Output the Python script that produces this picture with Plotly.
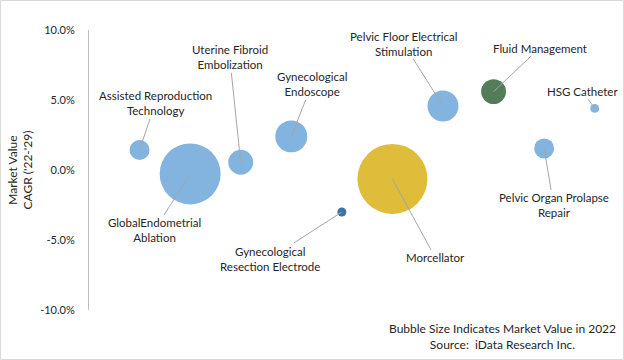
import plotly.graph_objects as go

segments = ["Assisted Reproduction<br>Technology", "GlobalEndometrial<br>Ablation",
            "Uterine Fibroid<br>Embolization", "Gynecological<br>Endoscope",
            "Gynecological<br>Resection Electrode", "Morcellator",
            "Pelvic Floor Electrical<br>Stimulation", "Fluid Management",
            "Pelvic Organ Prolapse<br>Repair", "HSG Catheter"]
x_pos = [1, 2, 3, 4, 5, 6, 7, 8, 9, 10]
cagr = [1.43, -0.28, 0.55, 2.4, -3.0, -0.64, 4.57, 5.6, 1.54, 4.4]
market_value = [20, 186, 31, 51, 4, 245, 48, 31, 20, 4]
colors = ["#83B4E0", "#83B4E0", "#83B4E0", "#83B4E0", "#3D71A8", "#DFBC3A",
          "#83B4E0", "#537D57", "#83B4E0", "#83B4E0"]
label_dx = [15.5, -36, -11, 20.5, -72, 43, -39.5, 46, 9.5, -12]
label_dy = [-46.5, 56.5, -105, -52, 46.5, 79, -62.5, -43.5, 57, -17]
y_ticks = [-10, -5, 0, 5, 10]
y_tick_labels = ["-10.0%", "-5.0%", "0.0%", "5.0%", "10.0%"]

FONT = "Lato"
TXT = "#262626"
max_d = 70
sizeref = 2 * max(market_value) / (max_d ** 2)

fig = go.Figure()
fig.add_trace(go.Scatter(
    x=x_pos, y=cagr, mode="markers",
    marker=dict(size=market_value, sizemode="area", sizeref=sizeref,
                color=colors, opacity=1, line=dict(width=0)),
    hoverinfo="skip", showlegend=False))

for xi, yi, lab, dx, dy in zip(x_pos, cagr, segments, label_dx, label_dy):
    fig.add_annotation(x=xi, y=yi, text=lab, showarrow=True, arrowhead=0,
                       arrowwidth=1, arrowcolor="#A6A6A6", ax=dx, ay=dy,
                       standoff=0, startstandoff=0,
                       font=dict(family=FONT, size=11.5, color=TXT))

W, H = 624, 360
L, R, T, B = 89, 4, 30, 50
pw, ph = W - L - R, H - T - B

fig.add_annotation(xref="paper", yref="paper", x=(19.5 - L) / pw, y=0.5,
                   text="Market Value<br>CAGR ('22-'29)", textangle=-90,
                   showarrow=False, xanchor="center", yanchor="middle",
                   font=dict(family=FONT, size=12, color=TXT))
fig.add_annotation(xref="paper", yref="paper", x=(502 - L) / pw, y=(H - B - 336) / ph,
                   text="Bubble Size Indicates Market Value in 2022<br>Source:  iData Research Inc.",
                   showarrow=False, xanchor="center", yanchor="middle",
                   font=dict(family=FONT, size=12, color=TXT))

fig.add_shape(type="rect", xref="paper", yref="paper",
              x0=(0.5 - L) / pw, x1=(W - 0.5 - L) / pw,
              y0=(H - B - (H - 0.5)) / ph, y1=(H - B - 0.5) / ph,
              line=dict(color="#D9D9D9", width=1), fillcolor="rgba(0,0,0,0)")

fig.update_xaxes(range=[0, 10.5], visible=False, showgrid=False, zeroline=False)
fig.update_yaxes(range=[-10, 10], tickvals=y_ticks, ticktext=y_tick_labels,
                 showgrid=False, zeroline=False, showline=True, linecolor="#BFBFBF",
                 linewidth=1, ticks="", ticklabelstandoff=11,
                 tickfont=dict(family=FONT, size=11, color=TXT))
fig.update_layout(width=W, height=H, margin=dict(l=L, r=R, t=T, b=B),
                  plot_bgcolor="white", paper_bgcolor="white",
                  font=dict(family=FONT))
fig.write_html("out.html", config={"displayModeBar": False},
               post_script="document.body.style.margin='0';")
